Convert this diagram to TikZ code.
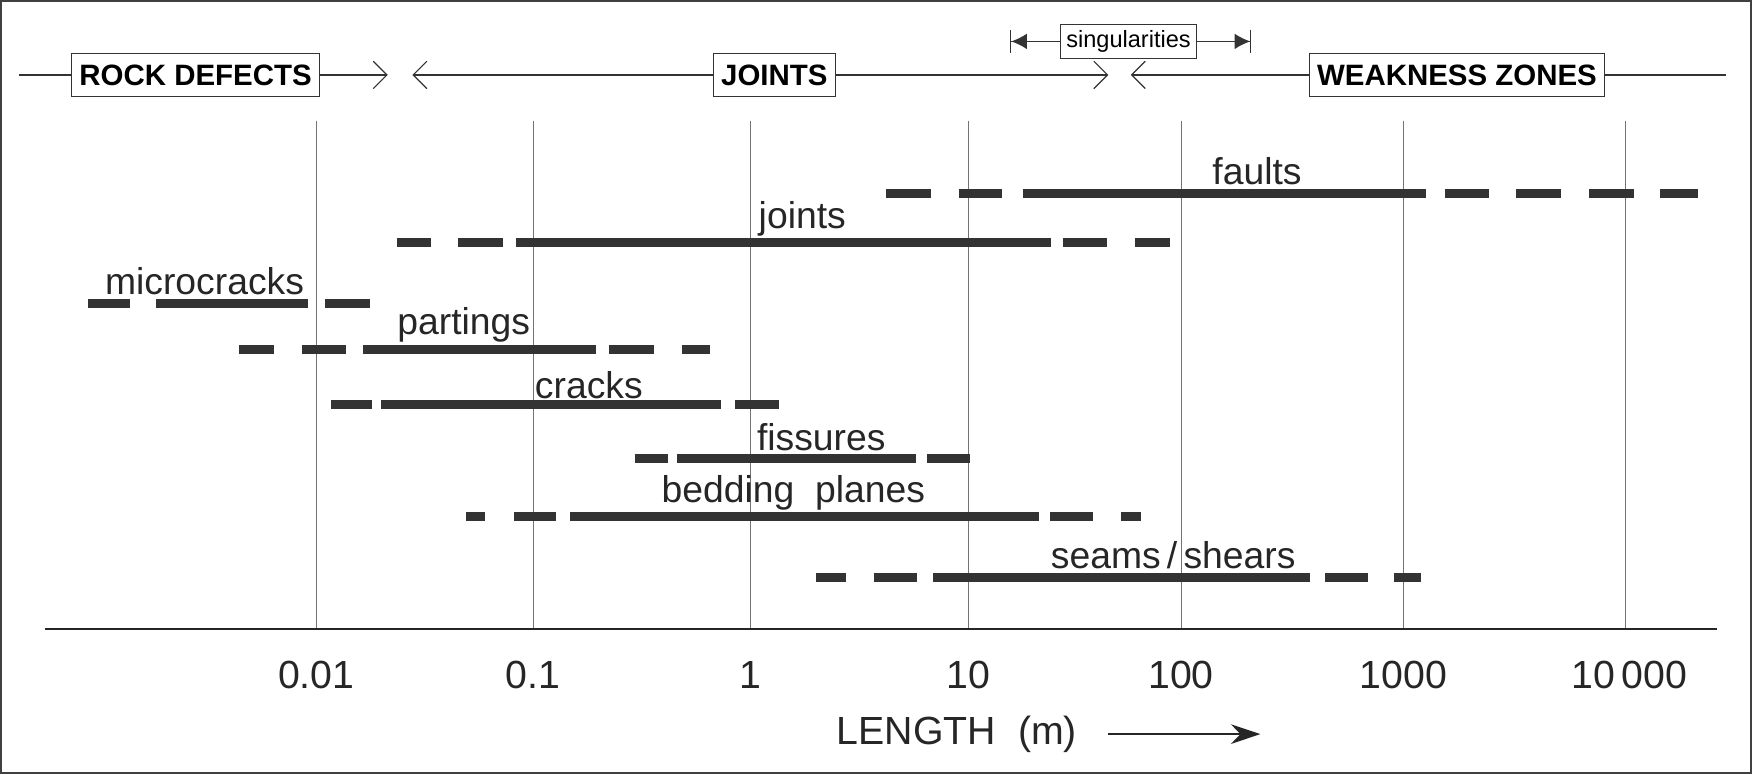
\documentclass[tikz,border=0pt]{standalone}
\usepackage{fontspec}
\setmainfont{Liberation Sans}
\usetikzlibrary{arrows.meta}

\tikzset{
	bar/.style={line width=4.6pt, draw=black!80},
	grid/.style={line width=0.4pt, draw=black!55},
	zonebox/.style={draw=black!80, line width=0.7pt, fill=white, inner sep=4pt, minimum height=22pt, font=\fontsize{15}{18}\selectfont\bfseries},
	barlabel/.style={font=\fontsize{19}{22}\selectfont, text=black!85},
	ticklabel/.style={font=\fontsize{20}{24}\selectfont, text=black!85},
	openarrow/.style={-{Straight Barb[length=7pt, width=14pt, line width=0.6pt]}, line width=0.6pt, draw=black!80}
}

\begin{document}
\begin{tikzpicture}[x=0.02cm, y=-0.02cm]
	\draw[black!75, line width=1.2pt, fill=white] (1,1) rectangle (1567,692);

	% grid lines and axis
	\foreach \x in {283, 477, 672, 867, 1057, 1256, 1455}
		\draw[grid] (\x,108) -- (\x,563);
	\draw[line width=0.9pt, black!85] (40,563) -- (1537,563);

	\node[ticklabel] (t1) at (283,604) {0.01};
	\node[ticklabel] (t2) at (477,604) {0.1};
	\node[ticklabel] (t3) at (672,604) {1};
	\node[ticklabel] (t4) at (867,604) {10};
	\node[ticklabel] (t5) at (1057,604) {100};
	\node[ticklabel] (t6) at (1256,604) {1000};
	\node[ticklabel] (t7) at (1458,604) {10\,000};

	\node[ticklabel, anchor=east] (len) at (970,657) {LENGTH\ \ (m)};
	\coordinate (lenEnd) at (1128,657);
	\draw[line width=0.9pt, black!85, -{Stealth[length=15pt, width=10pt]}] (len.east) ++(22,0) -- (lenEnd);

	% zone boxes on top
	\node[zonebox] (rock) at (175,67) {ROCK DEFECTS};
	\node[zonebox] (joints) at (693,67) {JOINTS};
	\node[zonebox] (weak) at (1304,67) {WEAKNESS ZONES};
	\node[draw=black!80, line width=0.6pt, fill=white, inner sep=3pt, font=\fontsize{12}{14}\selectfont] (sing) at (1010,37) {singularities};

	\coordinate (left) at (17,67);
	\coordinate (right) at (1545,67);
	\coordinate (rockEnd) at (347,67);
	\coordinate (jointsBeg) at (369,67);
	\coordinate (jointsEnd) at (992,67);
	\coordinate (weakBeg) at (1012,67);
	\coordinate (singL) at (904,37);
	\coordinate (singR) at (1120,37);

	\draw[line width=0.6pt, black!80] (left) -- (rock.west);
	\draw[line width=0.6pt, black!80] (weak.east) -- (right);
	\draw[openarrow] (rock.east) -- (rockEnd);
	\draw[openarrow] (joints.west) -- (jointsBeg);
	\draw[openarrow] (joints.east) -- (jointsEnd);
	\draw[openarrow] (weak.west) -- (weakBeg);
	\draw[line width=0.6pt, black!80, -{Latex[length=8pt, width=8pt] Bar[width=12pt]}] (sing.west) -- (singL);
	\draw[line width=0.6pt, black!80, -{Latex[length=8pt, width=8pt] Bar[width=12pt]}] (sing.east) -- (singR);

	% ranges: y / pieces
	\foreach \y/\pieces in {
		173/{793/833, 858/897, 916/1276, 1293/1333, 1357/1397, 1422/1462, 1486/1520},
		217/{355/386, 410/450, 462/941, 951/991, 1016/1047},
		272/{79/116, 140/276, 291/331},
		313/{214/245, 270/310, 325/533, 545/585, 610/635},
		362/{296/333, 341/645, 658/697},
		410/{568/598, 606/820, 830/868},
		462/{417/434, 460/498, 510/930, 940/978, 1003/1021},
		517/{730/757, 782/821, 835/1172, 1186/1224, 1248/1272}}
		\foreach \a/\b in \pieces
			\draw[bar] (\a,\y) -- (\b,\y);

	\node[barlabel] (faults) at (1125,153) {faults};
	\node[barlabel] (jointsLbl) at (718,196) {joints};
	\node[barlabel] (micro) at (183,252) {microcracks};
	\node[barlabel] (partings) at (415,291) {partings};
	\node[barlabel] (cracks) at (527,345) {cracks};
	\node[barlabel] (fissures) at (735,391) {fissures};
	\node[barlabel] (bedding) at (710,441) {bedding\ \ planes};
	\node[barlabel] (seams) at (1050,497) {seams\,/\,shears};
\end{tikzpicture}
\end{document}
